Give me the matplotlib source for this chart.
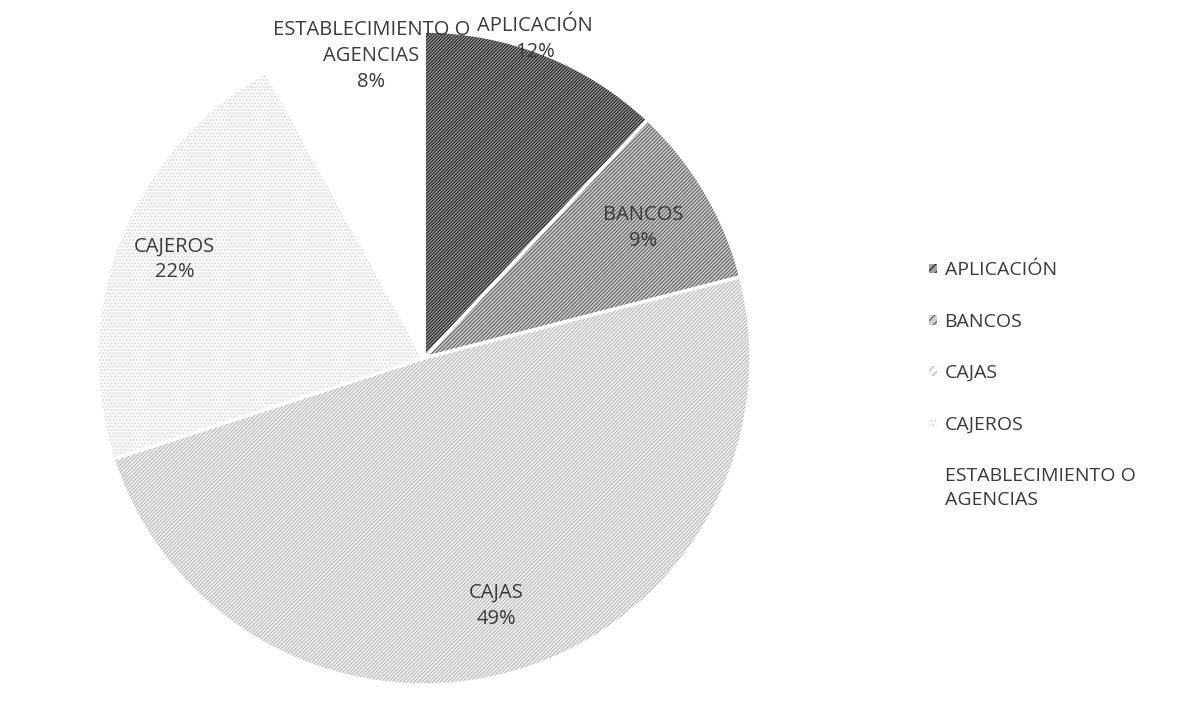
import numpy as np
import matplotlib.pyplot as plt
from matplotlib.colors import to_rgba
from matplotlib.patches import Rectangle

plt.rcParams['font.family'] = ['Open Sans', 'DejaVu Sans']
plt.rcParams['hatch.linewidth'] = 0.9

categories = ['APLICACIÓN', 'BANCOS', 'CAJAS', 'CAJEROS', 'ESTABLECIMIENTO O\nAGENCIAS']
values = [12, 9, 49, 22, 8]

# grey scan-like patterns
face_colors = ['#a0a0a0', '#d0d0d0', '#f6f6f6', '#fbfbfb', '#ffffff']
hatch_colors = ['#2a2a2a', '#6a6a6a', '#bcbcbc', '#d8d8d8', '#f0f0f0']
hatches = ['/' * 10, '/' * 9, '/' * 9, '.' * 5, '']

# label radius (fraction of R) and small angle tweak in degrees
label_r = [1.033, 0.78, 0.79, 0.82, 0.938]
label_dth = [2.4, 0, 0, 0, -4.5]

fig = plt.figure(figsize=(11.77, 7.17), dpi=100)
ax = fig.add_axes([0.0824, 0.0446, 0.5557, 0.912])

wedges, _ = ax.pie(values, startangle=90, counterclock=False, radius=1,
                   wedgeprops=dict(linewidth=2.5, edgecolor='white'))
for w, fc, hc, h in zip(wedges, face_colors, hatch_colors, hatches):
    w.set_facecolor(fc)
    w.set_hatch(h)
    w._hatch_color = to_rgba(hc)

total = sum(values)
cum = np.cumsum([0] + values)
for i, (lab, v) in enumerate(zip(categories, values)):
    mid = 90 - (cum[i] + v / 2) / total * 360 + label_dth[i]
    r = label_r[i]
    x, y = r * np.cos(np.radians(mid)), r * np.sin(np.radians(mid))
    ax.text(x, y, f'{lab}\n{v}%', ha='center', va='center',
            fontsize=14.5, color='#3a3a3a', linespacing=1.4)

ax.set_xlim(-1, 1)
ax.set_ylim(-1, 1)
ax.set_aspect('equal')
ax.axis('off')

handles = []
for fc, hc, h in zip(face_colors, hatch_colors, hatches):
    p = Rectangle((0, 0), 1, 1, facecolor=fc, hatch=h[:4],
                  edgecolor='none')
    p._hatch_color = to_rgba(hc)
    handles.append(p)
leg = fig.legend(handles, categories, loc='upper left', bbox_to_anchor=(0.781, 0.649),
                 frameon=False, fontsize=14, labelcolor='#3a3a3a',
                 handlelength=0.4, handleheight=0.4, handletextpad=0.4,
                 labelspacing=1.72, borderpad=0)
for t in leg.get_texts():
    t.set_linespacing(1.45)

fig.savefig('out.png', dpi=100)
